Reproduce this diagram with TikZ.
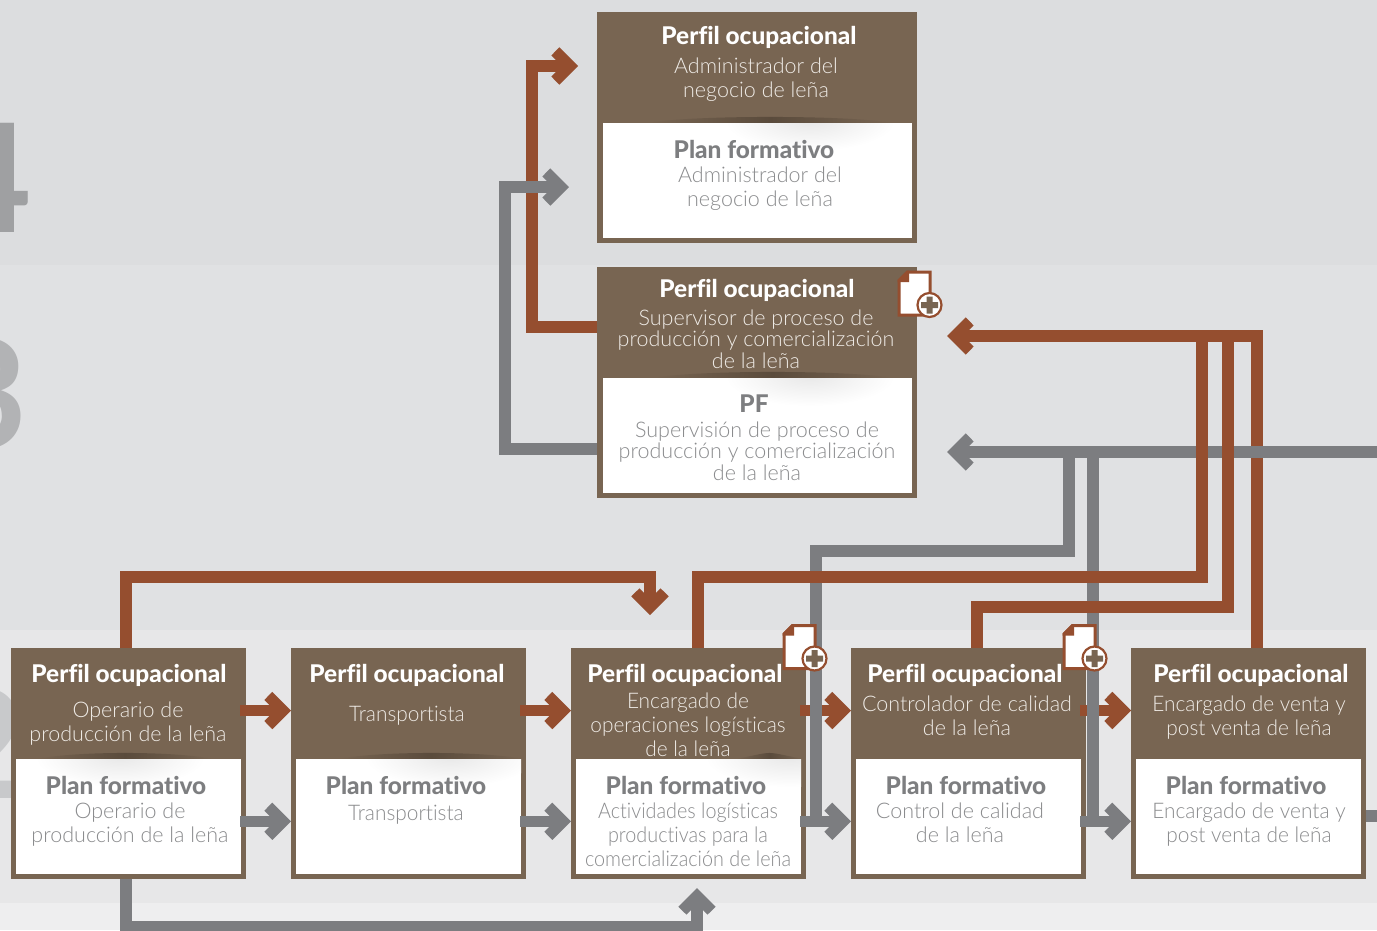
\documentclass[tikz,border=0pt]{standalone}
\usepackage{fontspec}
\setmainfont{Lato}
\newfontfamily\lightfont[Ligatures=NoCommon]{Lato Light}
\newfontfamily\lightA[Ligatures=NoCommon,FakeStretch=0.92]{Lato Light}
\newfontfamily\lightB[Ligatures=NoCommon,FakeStretch=0.97]{Lato Light}
\newfontfamily\heavyfont[Ligatures=NoCommon]{Lato Heavy}
\usetikzlibrary{arrows.meta}
\definecolor{bandA}{HTML}{DCDDDF}
\definecolor{bandB}{HTML}{E0E1E3}
\definecolor{bandC}{HTML}{E7E7E8}
\definecolor{bandD}{HTML}{EEEEEF}
\definecolor{boxbrown}{HTML}{786552}
\definecolor{darkbrown}{HTML}{5A4B3C}
\definecolor{linkred}{HTML}{954E2F}
\definecolor{linkgrey}{HTML}{7C7D80}
\definecolor{titlegrey}{HTML}{7D7E80}
\definecolor{subgrey}{HTML}{8A8B8D}
\definecolor{subwhite}{HTML}{EFEBE6}
\definecolor{digitfour}{HTML}{9FA0A2}
\definecolor{digitthree}{HTML}{B2B3B5}
\definecolor{digittwo}{HTML}{C8C9CB}
\pgfdeclarearrow{
  name=Chev,
  setup code={\pgfarrowssettipend{0pt}\pgfarrowssetlineend{-15pt}\pgfarrowssetvisualbackend{-26.7pt}\pgfarrowssetbackend{-26.7pt}},
  drawing code={
    \pgfpathmoveto{\pgfqpoint{0pt}{0pt}}
    \pgfpathlineto{\pgfqpoint{-18.7pt}{18.7pt}}
    \pgfpathlineto{\pgfqpoint{-26.7pt}{10.5pt}}
    \pgfpathlineto{\pgfqpoint{-16.2pt}{0pt}}
    \pgfpathlineto{\pgfqpoint{-26.7pt}{-10.5pt}}
    \pgfpathlineto{\pgfqpoint{-18.7pt}{-18.7pt}}
    \pgfpathclose
    \pgfusepathqfill
  }
}
\tikzset{
  outerbox/.style={anchor=north west,fill=boxbrown,inner sep=0pt,outer sep=0pt,minimum width=#1},
  outerbox/.default=235pt,
  innerbox/.style={anchor=north west,fill=white,inner sep=0pt,outer sep=0pt,minimum width=#1,minimum height=114.5pt},
  innerbox/.default=225pt,
  headzone/.style={anchor=north west,inner sep=0pt,outer sep=0pt,minimum width=#1,minimum height=111pt},
  headzone/.default=235pt,
  ptitle/.style={inner sep=0pt,text=white,font=\heavyfont\fontsize{24.4}{24}\selectfont},
  ftitle/.style={inner sep=0pt,text=titlegrey,font=\heavyfont\fontsize{24.4}{24}\selectfont},
  psub/.style={inner sep=0pt,text=subwhite,align=center,font=\lightfont\fontsize{21.5}{#1}\selectfont},
  psub/.default=24,
  fsub/.style={inner sep=0pt,text=subgrey,align=center,font=\lightfont\fontsize{21.5}{#1}\selectfont},
  fsub/.default=24,
  redlink/.style={draw=linkred,line width=11.5pt,-{Chev}},
  greylink/.style={draw=linkgrey,line width=11.5pt,-{Chev}},
  redplain/.style={draw=linkred,line width=11.5pt},
  greyplain/.style={draw=linkgrey,line width=11.5pt},
  digit/.style={inner sep=0pt,anchor=base east,font=\fontsize{151}{151}\selectfont\bfseries},
  docicon/.pic={
    \draw[draw=linkred,fill=white,line width=3pt,line join=miter]
      (10,1.5)--(32.5,1.5)--(32.5,44.5)--(1.5,44.5)--(1.5,10)--cycle;
    \fill[linkred] (0,9.5)--(9.5,0)--(11.5,0)--(11.5,11.5)--(0,11.5)--cycle;
    \draw[draw=linkred,fill=white,line width=2.2pt] (32,34.5) circle[radius=12];
    \fill[boxbrown] (29,26)--(35,26)--(35,31.5)--(40.5,31.5)--(40.5,37.5)--(35,37.5)--(35,43)--(29,43)--(29,37.5)--(23.5,37.5)--(23.5,31.5)--(29,31.5)--cycle;
  }
}
% divider: lens-shaped shadow under a header, soft haze clipped to the white panel
\newcommand{\divider}[6]{% x1, x2, ybottom, haze x, panel left, panel right
  \begin{scope}
    \clip (#5,#3) rectangle (#6,#3+35);
    \shade[inner color=white!91!black,outer color=white] (#4,#3-2) ellipse[x radius=85,y radius=30];
  \end{scope}
  \shade[left color=boxbrown,right color=boxbrown,middle color=darkbrown]
    (#1,#3-0.2) .. controls (#1+40,#3-8) and (#2-40,#3-8) .. (#2,#3-0.2) -- cycle;
}
\begin{document}
\begin{tikzpicture}[x=1pt,y=-1pt]
\useasboundingbox (0,0) rectangle (1377,930);
% bands
\fill[bandA] (0,0) rectangle (1377,265);
\fill[bandB] (0,265) rectangle (1377,630);
\fill[bandC] (0,630) rectangle (1377,903);
\fill[bandD] (0,903) rectangle (1377,930);
% level digits
\begin{scope}
\clip (0,0) rectangle (1377,930);
\node[digit,text=digitfour] (d4) at (32,232) {4};
\node[digit,text=digitthree] (d3) at (28,448) {3};
\node[digit,text=digittwo] (d2) at (26,798) {2};
\end{scope}
% boxes
\node[outerbox=320pt,minimum height=231pt] (bA) at (597,12) {};
\node[headzone=320pt] (pA) at (597,12) {};
\node[innerbox=309pt] (fA) at (603,123) {};
\node[outerbox=320pt,minimum height=231pt] (bB) at (597,267) {};
\node[headzone=320pt] (pB) at (597,267) {};
\node[innerbox=309pt] (fB) at (603,378) {};
\foreach \n/\x in {1/11,2/291,3/571,4/851,5/1131}{
  \node[outerbox,minimum height=230.5pt] (b\n) at (\x,648) {};
  \node[headzone] (p\n) at (\x,648) {};
  \node[innerbox] (f\n) at (\x+5,759) {};
}
% dividers
\divider{650}{890}{123}{810}{603}{912}
\divider{655}{890}{378}{810}{603}{912}
\divider{38}{212}{759}{120}{16}{241}
\divider{340}{522}{759}{450}{296}{521}
\divider{737}{802}{759}{790}{576}{801}
% links between neighbouring boxes (under the long ones)
\draw[redlink] ([shift={(-6pt,-7pt)}]p1.east) -- ([yshift=-7pt]p2.west);
\draw[redlink] ([shift={(-6pt,-7pt)}]p2.east) -- ([yshift=-7pt]p3.west);
\draw[redlink] ([shift={(-6pt,-7pt)}]p3.east) -- ([yshift=-7pt]p4.west);
\draw[redlink] ([shift={(-6pt,-7pt)}]p4.east) -- ([yshift=-7pt]p5.west);
\draw[greylink] ([shift={(-6pt,-5pt)}]b1.east |- f1.east) -- ([yshift=-5pt]b2.west |- f2.west);
\draw[greylink] ([shift={(-6pt,-5pt)}]b2.east |- f2.east) -- ([yshift=-5pt]b3.west |- f3.west);
\draw[greylink] ([shift={(-6pt,-5pt)}]b3.east |- f3.east) -- ([yshift=-5pt]b4.west |- f4.west);
\draw[greylink] ([shift={(-6pt,-5pt)}]b4.east |- f4.east) -- ([yshift=-5pt]b5.west |- f5.west);
% top-left risers
\draw[redlink] (pB.west |- 0,327) -- (532,327) -- (532,66) -- (578,66);
\draw[greylink] (bB.west |- 0,449) -- (505,449) -- (505,187) -- (569,187);
% rightmost red riser runs under the grey trunk
\coordinate (rTip) at (947,336);
\draw[redplain] (b5.north -| 1257,0) -- (1257,336) -- (1202,336);
\draw[redlink] (1257,336) -- (rTip);
% incoming grey trunk
\coordinate (gEnd) at (1377,452);
\coordinate (gTip) at (947,452);
\draw[greylink] (gEnd) -- (gTip);
\draw[greyplain] (1069,452) -- (1069,551) -- (816,551) -- (816,821);
\draw[greyplain] (1093,452) -- (1093,821);
\coordinate (gOut) at (1377,816);
\draw[greyplain] (b5.east |- gOut) -- (gOut);
\draw[greylink] (b1.south -| 126,0) -- (126,927) -- (697,927) -- (697,888);
% the two other red risers run over it
\draw[redplain] (1202,336) -- (1202,577) -- (698,577) -- (b3.north -| 698,0);
\draw[redplain] (1228,336) -- (1228,607) -- (977,607) -- (b4.north -| 977,0);
\draw[redlink] (b1.north -| 126,0) -- (126,577) -- (650,577) -- (650,615);
% texts: top box
\node[ptitle] (tA) at (759,37) {Perfil ocupacional};
\node[psub] (sA) at (756,80) {Administrador del\\negocio de leña};
\node[ftitle] (uA) at (754,149) {Plan formativo};
\node[fsub] (vA) at (760,189) {Administrador del\\negocio de leña};
% second box
\node[ptitle] (tB) at (757,290) {Perfil ocupacional};
\node[psub=21.5] (sB) at (756,339) {Supervisor de proceso de\\producción y comercialización\\de la leña};
\node[ftitle] (uB) at (754,404) {PF};
\node[fsub=21.5] (vB) at (757,451) {Supervisión de proceso de\\producción y comercialización\\de la leña};
% bottom row
\node[ptitle] (t1) at (129,675) {Perfil ocupacional};
\node[psub] (s1) at (128,724) {Operario de\\producción de la leña};
\node[ftitle] (u1) at (126,785) {Plan formativo};
\node[fsub] (v1) at (130,825) {Operario de\\producción de la leña};
\node[ptitle] (t2) at (407,675) {Perfil ocupacional};
\node[psub,font=\lightB\fontsize{21.5}{24}\selectfont] (s2) at (407,716) {Transportista};
\node[ftitle] (u2) at (406,785) {Plan formativo};
\node[fsub,font=\lightB\fontsize{21.5}{24}\selectfont] (v2) at (406,815) {Transportista};
\node[ptitle] (t3) at (685,675) {Perfil ocupacional};
\node[psub,font=\lightB\fontsize{21.5}{24}\selectfont] (s3) at (688,725) {Encargado de\\operaciones logísticas\\de la leña};
\node[ftitle] (u3) at (686,785) {Plan formativo};
\node[fsub,font=\lightA\fontsize{21.5}{24}\selectfont] (v3) at (688,835) {Actividades logísticas\\productivas para la\\comercialización de leña};
\node[ptitle] (t4) at (965,675) {Perfil ocupacional};
\node[psub] (s4) at (967,716) {Controlador de calidad\\de la leña};
\node[ftitle] (u4) at (966,785) {Plan formativo};
\node[fsub] (v4) at (960,823) {Control de calidad\\de la leña};
\node[ptitle] (t5) at (1251,675) {Perfil ocupacional};
\node[psub,font=\lightB\fontsize{21.5}{24}\selectfont] (s5) at (1249,718) {Encargado de venta y\\post venta de leña};
\node[ftitle] (u5) at (1246,785) {Plan formativo};
\node[fsub,font=\lightB\fontsize{21.5}{24}\selectfont] (v5) at (1249,825) {Encargado de venta y\\post venta de leña};
% document icons
\pic at (897.5,270.5) {docicon};
\pic at (782.5,624) {docicon};
\pic at (1062.5,624) {docicon};
\end{tikzpicture}
\end{document}
